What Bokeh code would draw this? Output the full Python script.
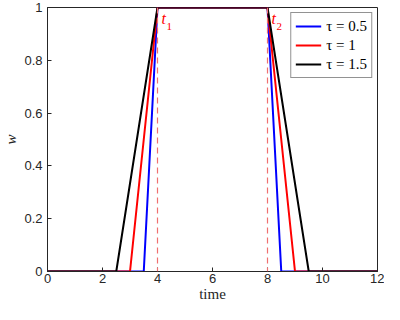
from bokeh.plotting import figure
from bokeh.models import Span, Label, Legend, LegendItem, Range1d, FixedTicker
from bokeh.embed import file_html
from bokeh.resources import INLINE

t1 = 4
t2 = 8
taus = [0.5, 1, 1.5]
labels = ["τ = 0.5", "τ = 1", "τ = 1.5"]
colors = ["#0000ff", "#ff0000", "#000000"]
x_end = 12
x_ticks = [0, 2, 4, 6, 8, 10, 12]
y_ticks = [0, 0.2, 0.4, 0.6, 0.8, 1]
y_tick_labels = {0: "0", 0.2: "0.2", 0.4: "0.4", 0.6: "0.6", 0.8: "0.8", 1: "1"}

p = figure(width=384, height=304, output_backend="svg", toolbar_location=None,
           x_range=Range1d(0, 12), y_range=Range1d(0, 1),
           min_border_left=0, min_border_right=7, min_border_top=7, min_border_bottom=0)
p.grid.visible = False
p.background_fill_color = "white"
p.border_fill_color = "white"
p.outline_line_color = "#262626"
p.outline_line_width = 1

for ax in (p.xaxis[0], p.yaxis[0]):
    ax.major_tick_in = 4
    ax.major_tick_out = 0
    ax.minor_tick_line_color = None
    ax.axis_line_color = "#262626"
    ax.major_tick_line_color = "#262626"
    ax.major_label_text_font = "Liberation Sans"
    ax.major_label_text_font_size = "13px"
    ax.major_label_text_color = "#262626"
    ax.axis_label_text_font = "Liberation Serif"
    ax.axis_label_text_font_size = "15px"
    ax.axis_label_text_font_style = "normal"
    ax.axis_label_text_color = "#262626"

p.xaxis.ticker = FixedTicker(ticks=x_ticks)
p.yaxis.ticker = FixedTicker(ticks=y_ticks)
p.yaxis.major_label_overrides = y_tick_labels
p.xaxis.axis_label = "time"
p.xaxis.axis_label_standoff = 0
p.xaxis.major_label_standoff = 2
p.yaxis.axis_label = "w"
p.yaxis.axis_label_text_font_style = "italic"
p.yaxis.axis_label_standoff = 2
p.yaxis.major_label_standoff = 5

for loc in (t1, t2):
    p.add_layout(Span(location=loc, dimension="height", line_color="#f07070",
                      line_dash="6 4", line_width=1.2))

items = []
for tau, lab, col in zip(taus, labels, colors):
    xs = [0, t1 - tau, t1, t2, t2 + tau, x_end]
    ys = [0, 0, 1, 1, 0, 0]
    r = p.line(xs, ys, line_color=col, line_width=2)
    items.append(LegendItem(label=lab, renderers=[r]))

for loc, sub in ((t1, "1"), (t2, "2")):
    p.add_layout(Label(x=loc, y=1, text="t", text_color="#ff0000", text_font="Liberation Serif",
                       text_font_style="italic", text_font_size="16px", x_offset=4, y_offset=-19))
    p.add_layout(Label(x=loc, y=1, text=sub, text_color="#ff0000", text_font="Liberation Serif",
                       text_font_size="11px", x_offset=9, y_offset=-22))

legend = Legend(items=items, location="top_right")
legend.label_text_font = "Liberation Serif"
legend.label_text_font_size = "15px"
legend.label_text_color = "#000000"
legend.glyph_width = 26
legend.glyph_height = 18
legend.label_height = 18
legend.spacing = 1
legend.padding = 4
legend.margin = 5
legend.border_line_color = "#262626"
legend.border_line_width = 1
legend.background_fill_alpha = 1
p.add_layout(legend)

open("out.html", "w").write(file_html(p, INLINE))
